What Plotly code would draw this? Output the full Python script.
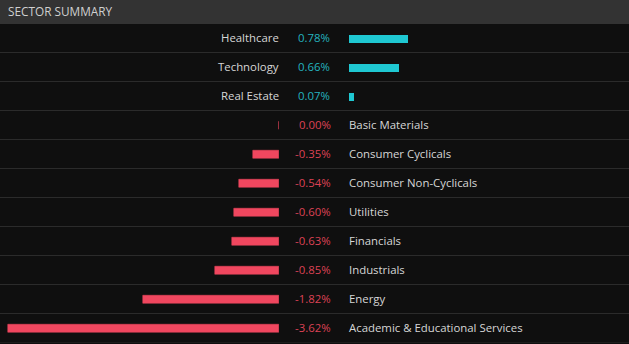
import plotly.graph_objects as go

sectors = ["Healthcare", "Technology", "Real Estate", "Basic Materials",
           "Consumer Cyclicals", "Consumer Non-Cyclicals", "Utilities",
           "Financials", "Industrials", "Energy", "Academic & Educational Services"]
changes = [0.78, 0.66, 0.07, 0.00, -0.35, -0.54, -0.60, -0.63, -0.85, -1.82, -3.62]
title = "SECTOR SUMMARY"

W, H = 629, 344
BG = "#0f0f0f"
HEADER = "#333333"
SEP = "#2b2b2b"
POS = "#1fc8d2"
NEG = "#f0475f"
POS_TXT = "#24b3bf"
NEG_TXT = "#dd4255"
LBL = "#d6d6d6"
FONT = "Open Sans"
FS = 11.4

neg_zero_px = 279
pos_zero_px = 349
px_per_pct = 75.0
header_h = 24
row_top = 23.5
row_h = 29.0
n = len(sectors)

pos_names = [s for s, v in zip(sectors, changes) if v > 0]
pos_vals = [v for v in changes if v > 0]
neg_names = [s for s, v in zip(sectors, changes) if v <= 0]
neg_vals = [v for v in changes if v <= 0]

fig = go.Figure()
fig.add_trace(go.Bar(y=neg_names, x=neg_vals, orientation="h", xaxis="x", yaxis="y",
                     marker=dict(color=NEG, line=dict(color=NEG, width=0.5)),
                     width=8 / row_h, hoverinfo="skip", showlegend=False))
fig.add_trace(go.Bar(y=pos_names, x=pos_vals, orientation="h", xaxis="x2", yaxis="y",
                     marker=dict(color=POS, line=dict(width=0)),
                     width=8 / row_h, hoverinfo="skip", showlegend=False))

shapes = [dict(type="rect", xref="paper", yref="paper", x0=0, x1=1,
               y0=1 - header_h / H, y1=1, fillcolor=HEADER, line=dict(width=0), layer="below")]
for i in range(n):
    shapes.append(dict(type="line", xref="paper", yref="y", x0=0, x1=1,
                       y0=i + 0.5, y1=i + 0.5, line=dict(color=SEP, width=1), layer="below"))

annotations = [dict(text=title, xref="paper", yref="paper", x=6 / W, y=1 - 11.5 / H,
                    xanchor="left", yanchor="middle", showarrow=False,
                    font=dict(family=FONT, size=11.8, color="#d0d0d0"))]
common = dict(xref="paper", yref="y", yanchor="middle", showarrow=False, yshift=0.5)
for s, v in zip(sectors, changes):
    txt = f"{v:.2f}%"
    if v > 0:
        annotations.append(dict(text=s, x=281 / W, y=s, xanchor="right",
                                font=dict(family=FONT, size=FS, color=LBL), **common))
        annotations.append(dict(text=txt, x=296 / W, y=s, xanchor="left",
                                font=dict(family=FONT, size=FS, color=POS_TXT), **common))
    else:
        annotations.append(dict(text=txt, x=333 / W, y=s, xanchor="right",
                                font=dict(family=FONT, size=FS, color=NEG_TXT), **common))
        annotations.append(dict(text=s, x=347 / W, y=s, xanchor="left",
                                font=dict(family=FONT, size=FS, color=LBL), **common))

fig.update_layout(
    width=W, height=H, margin=dict(l=0, r=0, t=0, b=0),
    paper_bgcolor=BG, plot_bgcolor="rgba(0,0,0,0)",
    xaxis=dict(domain=[0, neg_zero_px / W], range=[-neg_zero_px / px_per_pct, 0],
               visible=False, fixedrange=True),
    xaxis2=dict(domain=[pos_zero_px / W, 1], range=[0, (W - pos_zero_px) / px_per_pct],
                visible=False, fixedrange=True, anchor="y"),
    yaxis=dict(domain=[1 - (row_top + n * row_h) / H, 1 - row_top / H],
               type="category", categoryorder="array", categoryarray=sectors,
               range=[n - 0.5, -0.5], visible=False, fixedrange=True),
    shapes=shapes, annotations=annotations, bargap=0,
)

fig.write_html("out.html", config={"displayModeBar": False})
